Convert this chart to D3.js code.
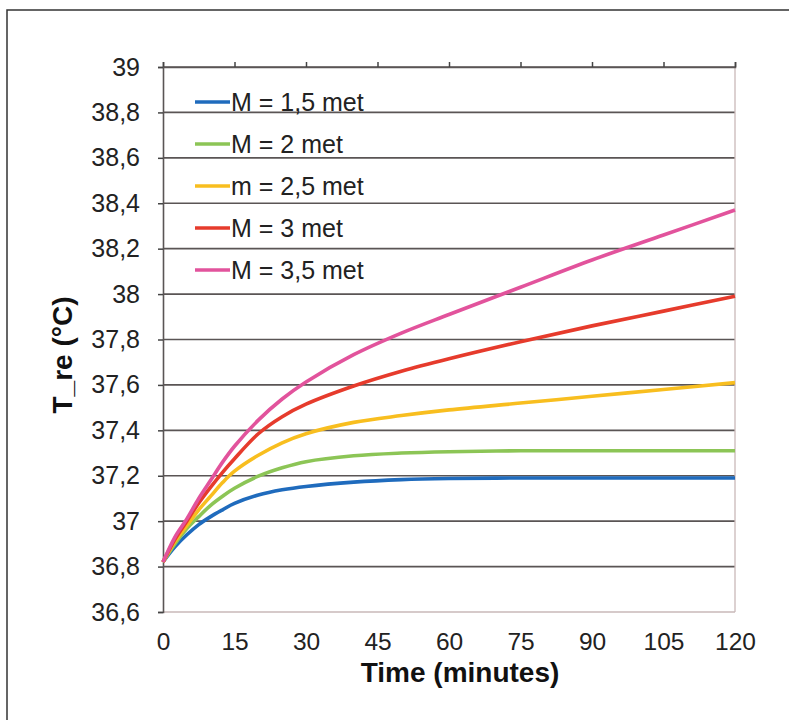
<!DOCTYPE html>
<html>
<head>
<meta charset="utf-8">
<script src="https://cdn.jsdelivr.net/npm/d3@7"></script>
<style>
  html, body { margin: 0; padding: 0; background: #fff; }
  svg { display: block; }
</style>
</head>
<body>
<svg id="chart" width="789" height="720"></svg>
<script>
// ---- data ----
const times = [0, 2.5, 5, 7.5, 10, 12.5, 15, 20, 25, 30, 40, 50, 60, 75, 90, 105, 120];
const m15 = [36.82, 36.887, 36.94, 36.985, 37.02, 37.05, 37.078, 37.115, 37.138, 37.153, 37.172, 37.183, 37.188, 37.19, 37.19, 37.19, 37.19];
const m20 = [36.82, 36.90, 36.967, 37.02, 37.07, 37.11, 37.145, 37.198, 37.235, 37.262, 37.288, 37.300, 37.306, 37.31, 37.31, 37.31, 37.31];
const m25 = [36.82, 36.91, 36.98, 37.05, 37.11, 37.17, 37.22, 37.29, 37.345, 37.385, 37.435, 37.465, 37.49, 37.52, 37.55, 37.58, 37.61];
const m30 = [36.82, 36.92, 37.00, 37.08, 37.15, 37.215, 37.275, 37.385, 37.46, 37.515, 37.595, 37.66, 37.715, 37.79, 37.86, 37.925, 37.99];
const m35 = [36.82, 36.93, 37.01, 37.10, 37.18, 37.26, 37.33, 37.445, 37.538, 37.613, 37.733, 37.828, 37.91, 38.03, 38.15, 38.26, 38.37];
const seriesNames = ["M = 1,5 met", "M = 2 met", "m = 2,5 met", "M = 3 met", "M = 3,5 met"];
const seriesColors = ["#1f6bbd", "#8cc556", "#f8be1f", "#e63b2c", "#e2539c"];
const xTicks = [0, 15, 30, 45, 60, 75, 90, 105, 120];
const yTicks = [36.6, 36.8, 37, 37.2, 37.4, 37.6, 37.8, 38, 38.2, 38.4, 38.6, 38.8, 39];
const xTitle = "Time (minutes)";
const yTitle = "T_re (°C)";

const seriesValues = [m15, m20, m25, m30, m35];

// ---- layout ----
const svg = d3.select("#chart");
const pL = 163, pR = 735, pT = 67, pB = 612;
const x = d3.scaleLinear().domain([0, 120]).range([pL, pR]);
const y = d3.scaleLinear().domain([36.6, 39]).range([pB, pT]);
const font = "Liberation Sans, Arial, Helvetica, sans-serif";
const loc = d3.formatLocale({decimal: ",", thousands: ".", grouping: [3], currency: ["", ""]});
const fmt = v => loc.format("~g")(+v.toFixed(1));

// outer frame (top and left edges visible)
svg.append("path").attr("d", "M7,720 L7,10 L789,10")
  .attr("fill", "none").attr("stroke", "#333").attr("stroke-width", 1.5);

// gridlines
svg.append("g").selectAll("line").data(yTicks.filter(v => v > 36.61)).join("line")
  .attr("x1", pL).attr("x2", pR)
  .attr("y1", d => y(d)).attr("y2", d => y(d))
  .attr("stroke", "#5a5555").attr("stroke-width", 1.6);

// right & bottom plot borders (light)
svg.append("line").attr("x1", pR).attr("x2", pR).attr("y1", pT).attr("y2", pB)
  .attr("stroke", "#c9b9b9").attr("stroke-width", 1.3);
svg.append("line").attr("x1", pL).attr("x2", pR).attr("y1", pB).attr("y2", pB)
  .attr("stroke", "#c9b9b9").attr("stroke-width", 1.3);

// top axis ticks (x ticks drawn at top)
const topAxis = svg.append("g").attr("transform", `translate(0,${pT})`)
  .call(d3.axisTop(x).tickValues(xTicks).tickSize(5).tickFormat(""));
topAxis.select(".domain").attr("stroke", "#5a5555").attr("stroke-width", 1.6);
topAxis.selectAll(".tick line").attr("stroke", "#444").attr("stroke-width", 1.5);

// bottom tick labels
const botAxis = svg.append("g").attr("transform", `translate(0,${pB})`)
  .call(d3.axisBottom(x).tickValues(xTicks).tickSize(0).tickPadding(21).tickFormat(d => d));
botAxis.select(".domain").remove();
botAxis.selectAll("text").attr("font-family", font).attr("font-size", 24.5).attr("fill", "#222");

// left axis
const yAxis = svg.append("g").attr("transform", `translate(${pL},0)`)
  .call(d3.axisLeft(y).tickValues(yTicks).tickSize(5).tickPadding(18).tickFormat(fmt));
yAxis.select(".domain").attr("stroke", "#5a5555").attr("stroke-width", 1.6);
yAxis.selectAll(".tick line").attr("stroke", "#444").attr("stroke-width", 1.5);
yAxis.selectAll("text").attr("font-family", font).attr("font-size", 25).attr("fill", "#222");

// lines
const line = d3.line().x((d, i) => x(times[i])).y(d => y(d)).curve(d3.curveCatmullRom.alpha(0.5));
svg.append("g").selectAll("path").data(seriesValues).join("path")
  .attr("d", d => line(d))
  .attr("fill", "none")
  .attr("stroke", (d, i) => seriesColors[i])
  .attr("stroke-width", 3.6)
  .attr("stroke-linejoin", "round");

// legend
const lg = svg.append("g");
seriesNames.forEach((name, i) => {
  const yy = 102 + i * 42;
  lg.append("line").attr("x1", 195).attr("x2", 230).attr("y1", yy).attr("y2", yy)
    .attr("stroke", seriesColors[i]).attr("stroke-width", 3.6);
  lg.append("text").attr("x", 231).attr("y", yy).attr("dy", "0.36em")
    .attr("font-family", font).attr("font-size", 25).attr("fill", "#222").text(name);
});

// axis titles
svg.append("text").attr("x", 460).attr("y", 682).attr("text-anchor", "middle")
  .attr("font-family", font).attr("font-weight", "bold").attr("font-size", 28).attr("fill", "#111")
  .text(xTitle);
svg.append("text").attr("transform", "translate(72,355) rotate(-90)").attr("text-anchor", "middle")
  .attr("font-family", font).attr("font-weight", "bold").attr("font-size", 28).attr("fill", "#111")
  .text(yTitle);
</script>
</body>
</html>
